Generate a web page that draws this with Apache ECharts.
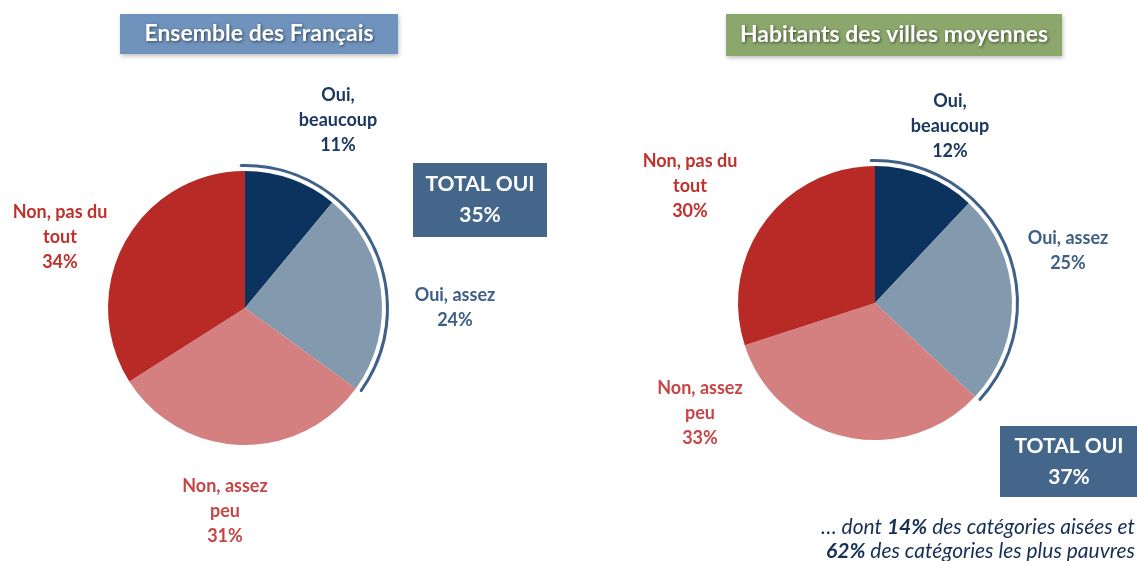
<!DOCTYPE html>
<html>
<head>
<meta charset="utf-8">
<script src="https://cdn.jsdelivr.net/npm/echarts@6/dist/echarts.min.js"></script>
<style>
  html, body { margin: 0; padding: 0; background: #fff; }
  #chart { width: 1137px; height: 561px; }
</style>
</head>
<body>
<div id="chart"></div>
<script>
// réponses (dans l'ordre horaire depuis midi)
const categories = ['Oui,\nbeaucoup', 'Oui, assez', 'Non, assez\npeu', 'Non, pas du\ntout'];
const ensembleValues = [11, 24, 31, 34];
const villesValues = [12, 25, 33, 30];
const panelTitles = ['Ensemble des Français', 'Habitants des villes moyennes'];
const totalOui = [35, 37];
const footnote = ['… dont ', '14%', ' des catégories aisées et', '62%', ' des catégories les plus pauvres'];

const sliceColors = ['#0c335e', '#8299ae', '#d47f80', '#b72a26'];
const labelColors = ['#1c3862', '#3e5f85', '#c84545', '#c0312c'];
const font = 'Lato, "Open Sans", sans-serif';

// positions des étiquettes (centre du bloc de texte)
const labelPos = [
  [[338, 120], [455, 308], [225, 511], [60, 237]],
  [[950, 126], [1068, 251], [700, 413], [690, 186]]
];
const centers = [[245, 308], [875, 303]];

function pieSeries(values, k) {
  return {
    type: 'pie',
    center: centers[k],
    radius: [0, 137],
    startAngle: 90,
    clockwise: true,
    silent: true,
    animation: false,
    label: {
      show: true,
      position: 'outside',
      overflow: 'none',
      formatter: p => p.name + '\n' + p.value + '%',
      fontFamily: font,
      fontWeight: 'bold',
      fontSize: 18,
      lineHeight: 25,
      align: 'center'
    },
    labelLine: { show: false },
    labelLayout: p => ({
      x: labelPos[k][p.dataIndex][0],
      y: labelPos[k][p.dataIndex][1],
      align: 'center',
      verticalAlign: 'middle'
    }),
    data: values.map((v, i) => ({
      value: v,
      name: categories[i],
      itemStyle: { color: sliceColors[i] },
      label: { color: labelColors[i] }
    }))
  };
}

// arc qui entoure le total "oui"
function arcSeries(total, k) {
  const pad = 0.6;
  return {
    type: 'pie',
    center: centers[k],
    radius: [141, 144],
    startAngle: 90 + pad * 3.6,
    clockwise: true,
    silent: true,
    animation: false,
    label: { show: false },
    labelLine: { show: false },
    itemStyle: { borderRadius: 2 },
    data: [
      { value: pad + total, itemStyle: { color: '#3f6187' } },
      { value: 100 - total - pad, itemStyle: { color: 'transparent' } }
    ]
  };
}

function titleBox(text, x, y, w, h, fill) {
  return {
    type: 'group',
    children: [
      {
        type: 'rect',
        shape: { x: x, y: y, width: w, height: h },
        style: { fill: fill, shadowBlur: 4, shadowColor: 'rgba(0,0,0,0.25)', shadowOffsetX: 1, shadowOffsetY: 2 }
      },
      {
        type: 'text',
        x: x + w / 2, y: y + h / 2,
        style: {
          text: text, fill: '#fff', font: 'bold 23px ' + font,
          align: 'center', verticalAlign: 'middle',
          textShadowColor: 'rgba(0,0,0,0.55)', textShadowBlur: 3, textShadowOffsetX: 1, textShadowOffsetY: 1
        }
      }
    ]
  };
}

function totalBox(total, x, y, w, h) {
  return {
    type: 'group',
    children: [
      { type: 'rect', shape: { x: x, y: y, width: w, height: h }, style: { fill: '#44668b' } },
      {
        type: 'text', x: x + w / 2, y: y + h / 2,
        style: {
          text: 'TOTAL OUI\n' + total + '%', fill: '#fff', font: 'bold 21px ' + font,
          lineHeight: 31, align: 'center', verticalAlign: 'middle'
        }
      }
    ]
  };
}

const chart = echarts.init(document.getElementById('chart'));
chart.setOption({
  backgroundColor: '#fff',
  series: [
    pieSeries(ensembleValues, 0),
    pieSeries(villesValues, 1),
    arcSeries(totalOui[0], 0),
    arcSeries(totalOui[1], 1)
  ],
  graphic: [
    titleBox(panelTitles[0], 120, 14, 278, 40, '#6f93bd'),
    titleBox(panelTitles[1], 726, 14, 336, 42, '#8ba76c'),
    totalBox(totalOui[0], 413, 163, 134, 74),
    totalBox(totalOui[1], 1000, 426, 138, 71),
    {
      type: 'text', x: 1135, y: 527,
      style: {
        text: '{n|' + footnote[0] + '}{b|' + footnote[1] + '}{n|' + footnote[2] + '}',
        align: 'right', verticalAlign: 'middle',
        rich: {
          n: { fill: '#162f55', font: 'italic 21px ' + font },
          b: { fill: '#162f55', font: 'italic bold 21px ' + font }
        }
      }
    },
    {
      type: 'text', x: 1135, y: 551,
      style: {
        text: '{b|' + footnote[3] + '}{n|' + footnote[4] + '}',
        align: 'right', verticalAlign: 'middle',
        rich: {
          n: { fill: '#162f55', font: 'italic 21px ' + font },
          b: { fill: '#162f55', font: 'italic bold 21px ' + font }
        }
      }
    }
  ]
});
</script>
</body>
</html>
